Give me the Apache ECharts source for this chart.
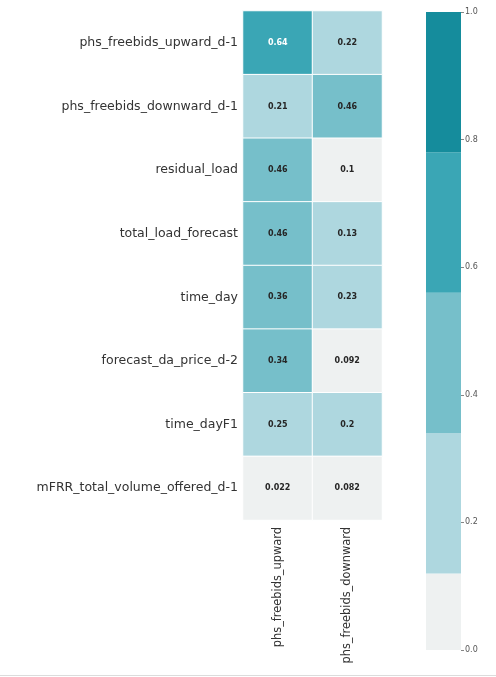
<!DOCTYPE html>
<html>
<head>
<meta charset="utf-8">
<script src="https://cdn.jsdelivr.net/npm/echarts@6/dist/echarts.min.js"></script>
<style>
  html, body { margin: 0; padding: 0; background: #fff; }
  #chart { width: 496px; height: 677px; }
</style>
</head>
<body>
<div id="chart"></div>
<script>
// Correlation of features with the two target columns
const features = [
  'phs_freebids_upward_d-1',
  'phs_freebids_downward_d-1',
  'residual_load',
  'total_load_forecast',
  'time_day',
  'forecast_da_price_d-2',
  'time_dayF1',
  'mFRR_total_volume_offered_d-1'
];
const targets = ['phs_freebids_upward', 'phs_freebids_downward'];
const upwardValues = [0.64, 0.21, 0.46, 0.46, 0.36, 0.34, 0.25, 0.022];
const downwardValues = [0.22, 0.46, 0.1, 0.13, 0.23, 0.092, 0.2, 0.082];

// Discrete colour scale: bin edges and colours
const binEdges = [-0.1, 0.12, 0.34, 0.56, 0.78, 1.0];
const binColors = ['#eef1f1', '#aed7df', '#76bfca', '#3aa6b5', '#158c9c'];
const colorbarTicks = [0.0, 0.2, 0.4, 0.6, 0.8, 1.0];

const cells = [];
[upwardValues, downwardValues].forEach((col, xi) => {
  col.forEach((v, yi) => cells.push([xi, yi, v]));
});

const pieces = binColors.map((c, i) => ({
  gte: binEdges[i],
  lt: i === binColors.length - 1 ? binEdges[i + 1] + 1e-9 : binEdges[i + 1],
  color: c
}));

// Colour bar segments, clipped to the visible 0..1 range
const barSegments = binColors.map((c, i) => {
  const lo = Math.max(binEdges[i], 0);
  const hi = binEdges[i + 1];
  return { value: +(hi - lo).toFixed(4), itemStyle: { color: c } };
});

const labelFont = { fontSize: 8, fontWeight: 'bold', fontFamily: 'DejaVu Sans' };

const chart = echarts.init(document.getElementById('chart'));
chart.setOption({
  backgroundColor: '#ffffff',
  animation: false,
  grid: [
    { left: 243, top: 11, width: 139, height: 509 },
    { left: 426, top: 12, width: 35, height: 638 }
  ],
  xAxis: [
    {
      type: 'category', gridIndex: 0, data: targets, position: 'bottom',
      axisLine: { show: false }, axisTick: { show: false }, splitLine: { show: false },
      axisLabel: {
        rotate: 90, margin: 7, color: '#333', fontSize: 11.4,
        fontFamily: 'DejaVu Sans'
      }
    },
    {
      type: 'category', gridIndex: 1, data: ['cb'], show: false
    }
  ],
  yAxis: [
    {
      type: 'category', gridIndex: 0, data: features, inverse: true,
      axisLine: { show: false }, axisTick: { show: false }, splitLine: { show: false },
      axisLabel: {
        margin: 5, color: '#333', fontSize: 12.5, fontFamily: 'DejaVu Sans'
      }
    },
    {
      type: 'value', gridIndex: 1, min: 0, max: 1, interval: 0.2, position: 'right',
      axisLine: { show: false },
      axisTick: { show: true, length: 3, lineStyle: { color: '#666', width: 0.8 } },
      splitLine: { show: false },
      axisLabel: {
        margin: 4, color: '#555', fontSize: 8, fontFamily: 'DejaVu Sans',
        formatter: v => colorbarTicks.some(t => Math.abs(t - v) < 1e-6) ? v.toFixed(1) : ''
      }
    }
  ],
  visualMap: {
    type: 'piecewise', show: false, seriesIndex: 0, dimension: 2, pieces: pieces
  },
  series: [
    {
      type: 'heatmap', xAxisIndex: 0, yAxisIndex: 0, data: cells,
      itemStyle: { borderColor: '#ffffff', borderWidth: 1 },
      label: Object.assign({
        show: true,
        color: '#262626',
        // white text on the darker cells
        formatter: p => p.value[2] >= binEdges[3] ? '{w|' + p.value[2] + '}' : String(p.value[2]),
        rich: { w: Object.assign({ color: '#ffffff' }, labelFont) }
      }, labelFont),
      emphasis: { disabled: true }
    },
    ...barSegments.map(seg => ({
      type: 'bar', xAxisIndex: 1, yAxisIndex: 1, stack: 'cb', barWidth: '100%',
      data: [seg], silent: true
    }))
  ],
  graphic: [
    {
      type: 'line', shape: { x1: 0, y1: 675.5, x2: 496, y2: 675.5 },
      style: { stroke: '#dcdcdc', lineWidth: 1 }
    }
  ]
});
</script>
</body>
</html>
